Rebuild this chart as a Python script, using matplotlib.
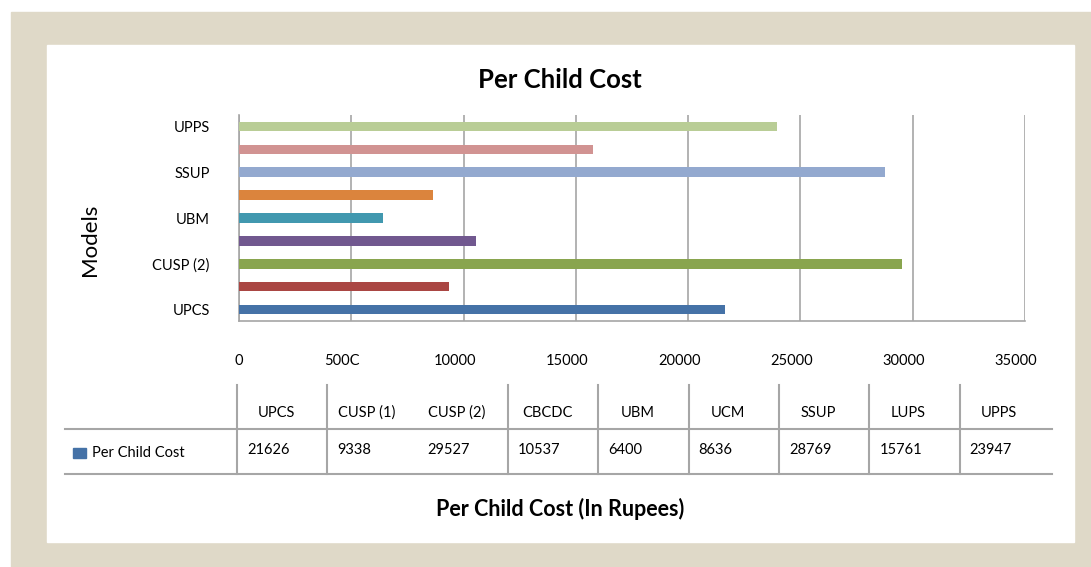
import matplotlib.pyplot as plt
import matplotlib.transforms as mtransforms
from matplotlib.patches import Rectangle
import numpy as np

plt.rcParams['font.family'] = ['Lato', 'DejaVu Sans']

# data
models = ['UPCS', 'CUSP (1)', 'CUSP (2)', 'CBCDC', 'UBM', 'UCM', 'SSUP', 'LUPS', 'UPPS']
cost = [21626, 9338, 29527, 10537, 6400, 8636, 28769, 15761, 23947]
colors = ['#4572a7', '#aa4643', '#89a54e', '#71588f', '#4198af',
          '#db843d', '#93a9cf', '#d19392', '#b9cd96']
xticks = [0, 5000, 10000, 15000, 20000, 25000, 30000, 35000]
xtick_labels = ['0', '500C', '10000', '15000', '20000', '25000', '30000', '35000']
series_name = 'Per Child Cost'

W, H = 1091, 567
fig = plt.figure(figsize=(W / 100, H / 100), dpi=100)

# background layer in pixel coords (frame + data table)
bg = fig.add_axes([0, 0, 1, 1])
bg.set_xlim(0, W)
bg.set_ylim(H, 0)
bg.axis('off')
bg.add_patch(Rectangle((11, 12), W - 11, H - 12, color='#dfd9c8'))
bg.add_patch(Rectangle((47, 45), 1027, 497, color='white'))

# bar chart
ax = fig.add_axes([239 / W, 1 - 321 / H, (1025 - 239) / W, (321 - 115) / H])
ax.patch.set_alpha(0)
y = np.arange(len(models))
ax.barh(y, cost, height=0.42, color=colors, zorder=3)
ax.set_xlim(0, 35000)
ax.set_ylim(-0.5, 8.5)
ax.set_xticks(xticks)
ax.set_xticklabels(xtick_labels)
ax.set_yticks(y[::2])
ax.set_yticklabels(models[::2])
ax.tick_params(length=0, labelsize=10.5)
ax.tick_params(axis='x', pad=24)
ax.tick_params(axis='y', pad=21)
ax.grid(axis='x', color='#a6a6a6', lw=1.2, zorder=0)
for s in ['top', 'right']:
    ax.spines[s].set_visible(False)
for s in ['left', 'bottom']:
    ax.spines[s].set_color('#a6a6a6')
    ax.spines[s].set_linewidth(1.2)

# labels sit a little left of their gridlines in the original
shift = mtransforms.ScaledTranslation(-9 / 100, 0, fig.dpi_scale_trans)
for lbl in ax.get_xticklabels()[1:]:
    lbl.set_transform(lbl.get_transform() + shift)

fig.text(560 / W, 1 - 80 / H, 'Per Child Cost', ha='center', va='center',
         fontsize=18.5, fontweight='bold')
fig.text(90 / W, 1 - 240 / H, 'Models', ha='center', va='center',
         rotation=90, fontsize=16)
fig.text(560 / W, 1 - 509 / H, 'Per Child Cost (In Rupees)', ha='center',
         va='center', fontsize=15.5, fontweight='bold')

# data table under the chart
col0 = 237
col_w = (1050 - 237) / len(models)
lc = '#a6a6a6'
bg.plot([65, 1052], [429, 429], color=lc, lw=1.5)
bg.plot([65, 1052], [474, 474], color=lc, lw=1.5)
for i in range(len(models)):
    if i == 2:
        continue  # divider missing in the original
    xl = col0 + i * col_w
    bg.plot([xl, xl], [385, 474], color=lc, lw=1.5)
for i, (m, v) in enumerate(zip(models, cost)):
    xl = col0 + i * col_w
    bg.text(xl + col_w / 2 - 6, 413, m, ha='center', va='center', fontsize=10.5)
    bg.text(xl + 10, 450, str(v), ha='left', va='center', fontsize=10.5)
bg.add_patch(Rectangle((73, 448), 13, 10, color=colors[0]))
bg.text(92, 453, series_name, ha='left', va='center', fontsize=10.5)

fig.savefig('out.png', dpi=100)
